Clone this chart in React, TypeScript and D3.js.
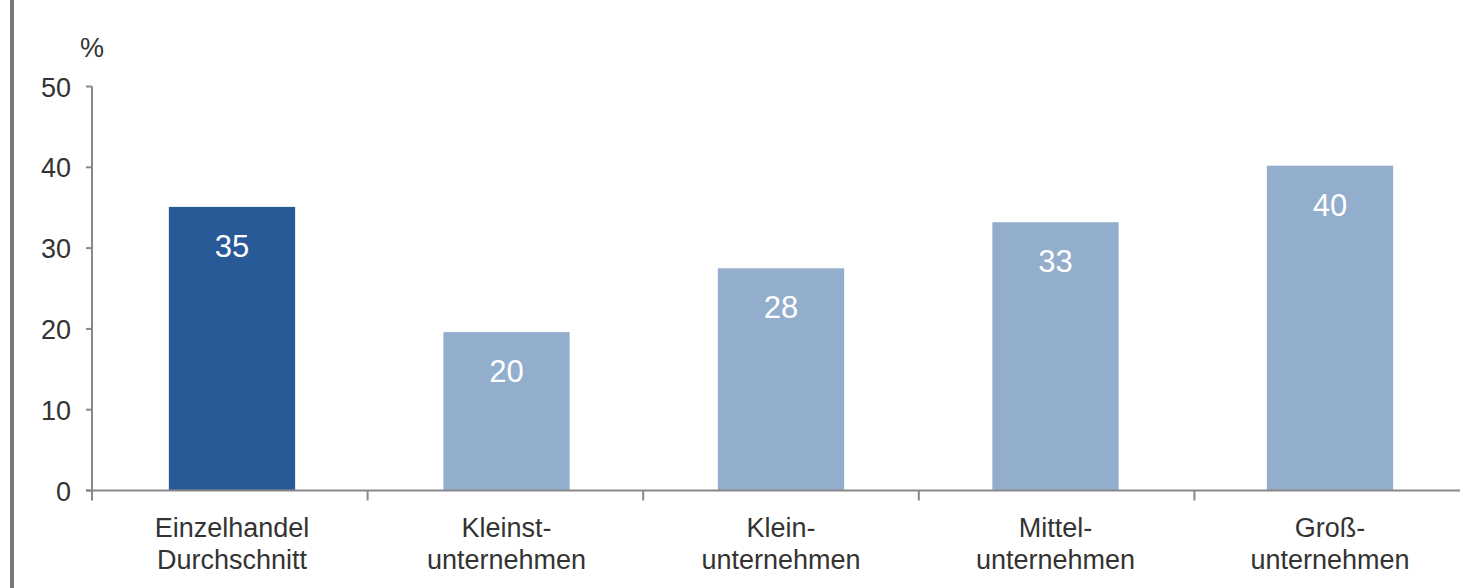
import React from "react";
import * as d3 from "d3";

const categories: string[][] = [
  ["Einzelhandel", "Durchschnitt"],
  ["Kleinst-", "unternehmen"],
  ["Klein-", "unternehmen"],
  ["Mittel-", "unternehmen"],
  ["Groß-", "unternehmen"],
];
const values: number[] = [35.1, 19.6, 27.5, 33.2, 40.2];
const valueLabels: string[] = ["35", "20", "28", "33", "40"];
const yTicks: number[] = [0, 10, 20, 30, 40, 50];
const unitLabel = "%";

const W = 1460;
const H = 588;
const x0 = 92;
const x1 = 1470;
const yTop = 86.5;
const yBottom = 490.5;
const font = "Arial, 'Liberation Sans', sans-serif";

export default function App() {
  const x = d3
    .scaleBand<number>()
    .domain(categories.map((_, i) => i))
    .range([x0, x1])
    .paddingInner(0.54)
    .paddingOuter(0.28);
  const y = d3.scaleLinear().domain([0, 50]).range([yBottom, yTop]);
  const bandStep = (x1 - x0) / categories.length;

  return (
    <svg
      width={W}
      height={H}
      style={{ position: "absolute", left: 0, top: 0, background: "#fff" }}
      fontFamily={font}
    >
      <rect x={10} y={0} width={4} height={H} fill="#777" />
      {values.map((v, i) => (
        <g key={i}>
          <rect
            x={x(i)!}
            y={y(v)}
            width={x.bandwidth()}
            height={yBottom - y(v)}
            fill={i === 0 ? "#275a97" : "#93aecd"}
          />
          <text
            x={x(i)! + x.bandwidth() / 2}
            y={y(v) + 50}
            textAnchor="middle"
            fill="#fff"
            fontSize={31}
          >
            {valueLabels[i]}
          </text>
        </g>
      ))}
      <line x1={x0} x2={x0} y1={yTop} y2={yBottom} stroke="#888" strokeWidth={2} />
      {yTicks.map((t) => (
        <g key={t}>
          <line x1={x0 - 6} x2={x0} y1={y(t)} y2={y(t)} stroke="#888" strokeWidth={2} />
          <text
            x={71}
            y={y(t) + 10}
            textAnchor="end"
            fill="#333"
            fontSize={27}
          >
            {t}
          </text>
        </g>
      ))}
      <text x={80} y={57} fill="#333" fontSize={27}>
        {unitLabel}
      </text>
      <line x1={x0 - 6} x2={W} y1={yBottom} y2={yBottom} stroke="#888" strokeWidth={2} />
      {categories.map((_, i) => (
        <line
          key={i}
          x1={x0 + bandStep * i}
          x2={x0 + bandStep * i}
          y1={yBottom}
          y2={yBottom + 10}
          stroke="#888"
          strokeWidth={2}
        />
      ))}
      {categories.map((c, i) => (
        <text
          key={i}
          x={x(i)! + x.bandwidth() / 2}
          textAnchor="middle"
          fill="#333"
          fontSize={27}
        >
          {c.map((line, j) => (
            <tspan key={j} x={x(i)! + x.bandwidth() / 2} y={537 + j * 32}>
              {line}
            </tspan>
          ))}
        </text>
      ))}
    </svg>
  );
}
